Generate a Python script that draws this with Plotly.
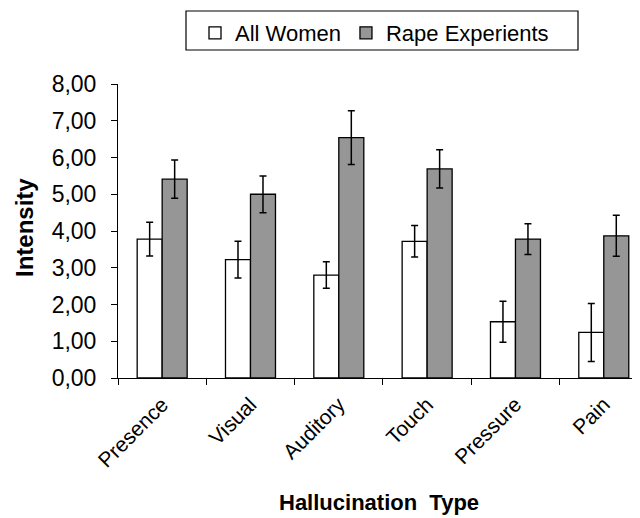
import plotly.graph_objects as go

categories = ["Presence", "Visual", "Auditory", "Touch", "Pressure", "Pain"]
all_women = [3.78, 3.22, 2.80, 3.72, 1.53, 1.24]
all_women_err = [0.46, 0.50, 0.36, 0.43, 0.56, 0.79]
rape_exp = [5.41, 5.00, 6.54, 5.69, 3.78, 3.87]
rape_exp_err = [0.52, 0.50, 0.73, 0.52, 0.42, 0.56]
y_ticks = [0, 1, 2, 3, 4, 5, 6, 7, 8]

FONT = "Liberation Sans, Arial, sans-serif"

fig = go.Figure()
fig.add_trace(go.Bar(
    x=categories, y=all_women, name="All Women",
    marker=dict(color="white", line=dict(color="black", width=1.3)),
    error_y=dict(type="data", array=all_women_err, color="black", thickness=1.5, width=3.5),
))
fig.add_trace(go.Bar(
    x=categories, y=rape_exp, name="Rape Experients",
    marker=dict(color="#969696", line=dict(color="black", width=1.3)),
    error_y=dict(type="data", array=rape_exp_err, color="black", thickness=1.5, width=3.5),
))

# page has an 8px body margin: figure drawn from (8,8)
OFF = 8
W, H = 640 - OFF, 518 - OFF
L = 118 - OFF
T = 84 - OFF
BOT = 378 - OFF
plot_w = W - L
plot_h = BOT - T


def px(xpage):
    return (xpage - OFF - L) / plot_w


def py(ypage):
    return (BOT - (ypage - OFF)) / plot_h


fig.update_layout(
    width=W, height=H,
    margin=dict(l=L, r=0, t=T, b=H - BOT, pad=0),
    paper_bgcolor="white", plot_bgcolor="white",
    barmode="group", bargap=0.434, bargroupgap=0,
    separators=",.",
    font=dict(family=FONT, color="black", size=22),
    legend=dict(
        orientation="h", x=px(195), xanchor="left",
        y=py(12), yanchor="top",
        borderwidth=0, bgcolor="rgba(0,0,0,0)",
        font=dict(size=22, family=FONT), itemwidth=30,
    ),
    xaxis=dict(
        range=[-0.5, 5.41], showline=True, linecolor="black", linewidth=1,
        ticks="outside", tickson="boundaries", ticklen=6, tickcolor="black",
        tickangle=-45, tickfont=dict(size=21, family=FONT), showgrid=False,
        ticklabelstandoff=5,
    ),
    yaxis=dict(
        range=[0, 8], tickvals=y_ticks, tickformat=".2f",
        showline=True, linecolor="black", linewidth=1,
        ticks="outside", ticklen=6, tickcolor="black",
        tickfont=dict(size=23, family=FONT), showgrid=False, zeroline=False,
        ticklabelstandoff=10,
    ),
    shapes=[
        dict(type="rect", xref="paper", yref="paper",
             x0=px(186), x1=px(578), y0=py(50), y1=py(11),
             line=dict(color="black", width=1.2), fillcolor="rgba(0,0,0,0)",
             layer="below"),
    ],
    annotations=[
        dict(text="<b>Intensity</b>", xref="paper", yref="paper",
             x=px(24), y=py(228), textangle=-90,
             showarrow=False, font=dict(size=24, family=FONT),
             xanchor="center", yanchor="middle", borderpad=0),
        dict(text="<b>Hallucination\u00a0 Type</b>", xref="paper", yref="paper",
             x=px(379), y=py(502), borderpad=0,
             showarrow=False, font=dict(size=22, family=FONT),
             xanchor="center", yanchor="middle"),
    ],
)

fig.write_html("out.html")
